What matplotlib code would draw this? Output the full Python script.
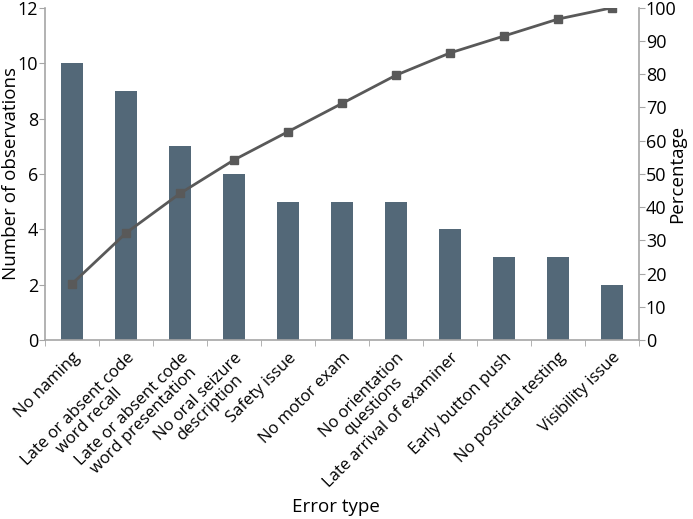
import matplotlib
matplotlib.use("Agg")
import matplotlib.pyplot as plt
import numpy as np

categories = ["No naming", "Late or absent code\nword recall", "Late or absent code\nword presentation",
              "No oral seizure\ndescription", "Safety issue", "No motor exam", "No orientation\nquestions",
              "Late arrival of examiner", "Early button push", "No postictal testing", "Visibility issue"]
counts = [10, 9, 7, 6, 5, 5, 5, 4, 3, 3, 2]
cum_pct = [16.9, 32.2, 44.1, 54.2, 62.7, 71.2, 79.7, 86.4, 91.5, 96.6, 100.0]
left_ticks = [0, 2, 4, 6, 8, 10, 12]
right_ticks = [0, 10, 20, 30, 40, 50, 60, 70, 80, 90, 100]

plt.rcParams['font.family'] = ['Open Sans', 'DejaVu Sans']
fig = plt.figure(figsize=(6.93, 5.19), dpi=100)
ax = fig.add_axes([0.065, 0.345, 0.857, 0.64])
x = np.arange(len(categories))
ax.bar(x, counts, width=0.4, color='#536878', zorder=2)
ax.set_xlim(-0.5, len(categories) - 0.5)
ax.set_ylim(0, 12)
ax.set_yticks(left_ticks)
ax.set_xticks(x)
ax.set_xticklabels(categories, rotation=45, ha='right', rotation_mode='anchor', multialignment='center',
                   fontsize=12, linespacing=1.05)
ax.tick_params(axis='x', length=0, pad=7)
ax.set_xticks(np.arange(-0.5, len(categories), 1), minor=True)
ax.tick_params(axis='x', which='minor', length=4, color='#a6a6a6')
ax.tick_params(axis='y', labelsize=13, color='#a6a6a6', length=4, pad=1)
for s in ['top', 'right']:
    ax.spines[s].set_visible(False)
for s in ['left', 'bottom']:
    ax.spines[s].set_color('#a6a6a6')
    ax.spines[s].set_linewidth(1.2)
ax.set_ylabel('Number of observations', fontsize=13.5)
ax.yaxis.set_label_coords(-0.043, 0.5)
ax.set_xlabel('Error type', fontsize=13.5)
ax.xaxis.set_label_coords(0.49, -0.475)

ax2 = ax.twinx()
ax2.plot(x, cum_pct, color='#595959', lw=2, marker='s', ms=6, zorder=3)
ax2.set_ylim(0, 100)
ax2.set_yticks(right_ticks)
ax2.tick_params(axis='y', labelsize=13, color='#a6a6a6', length=4, pad=1)
for s in ['top', 'left', 'bottom']:
    ax2.spines[s].set_visible(False)
ax2.spines['right'].set_color('#a6a6a6')
ax2.spines['right'].set_linewidth(1.2)
ax2.set_ylabel('Percentage', fontsize=13.5)
ax2.yaxis.set_label_coords(1.049, 0.5)

fig.savefig('out.png', dpi=100)
